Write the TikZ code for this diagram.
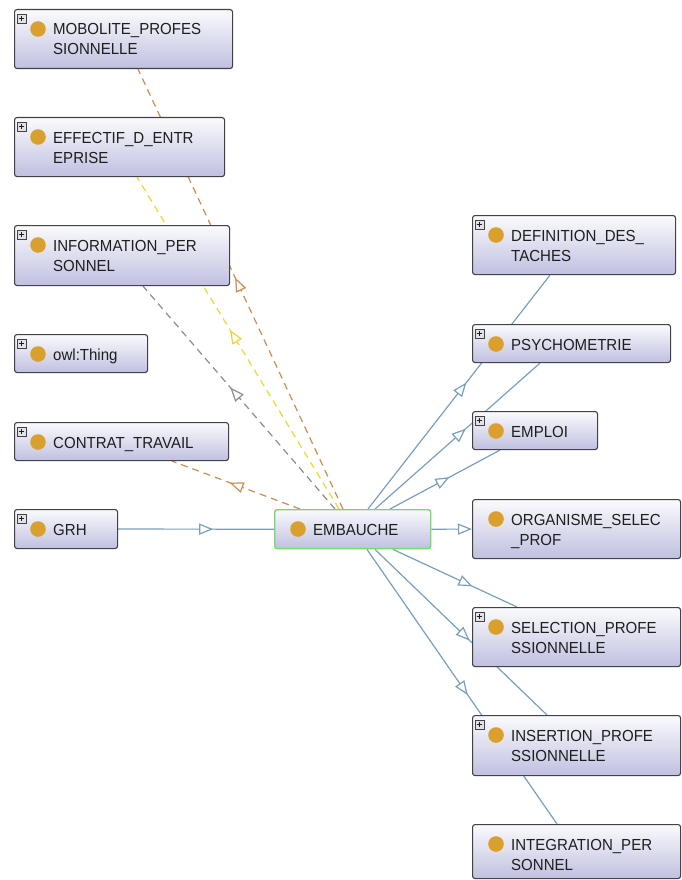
\documentclass[tikz,border=0pt]{standalone}
\usepackage{fontspec}
\setmainfont{Liberation Sans}[FakeStretch=0.94]
\usetikzlibrary{calc,arrows.meta,decorations.markings,backgrounds}

\definecolor{boxtop}{RGB}{250,250,253}
\definecolor{boxbot}{RGB}{192,192,224}
\definecolor{boxborder}{RGB}{65,65,70}
\definecolor{embborder}{RGB}{120,215,110}
\definecolor{dotcol}{RGB}{218,160,45}
\definecolor{plusfill}{RGB}{225,225,230}
\definecolor{textcol}{RGB}{30,30,30}
\definecolor{edgeblue}{RGB}{120,160,190}
\definecolor{edgeorange}{RGB}{205,140,80}
\definecolor{edgeyellow}{RGB}{235,215,50}
\definecolor{edgegray}{RGB}{140,140,150}

\tikzset{
  clsbox/.style={draw=boxborder, line width=1.1pt, rounded corners=2.5pt,
    top color=boxtop, bottom color=boxbot, anchor=north west, inner sep=0pt},
  embbox/.style={draw=embborder, line width=1.4pt},
  plainbox/.style={},
  clstext/.style={anchor=base west, inner sep=0pt, text=textcol,
    font=\fontsize{16}{20}\selectfont},
  isa/.style={draw=edgeblue, line width=1.2pt},
  hasrel/.style={line width=1.2pt, dash pattern=on 7pt off 5pt},
  tri/.style={postaction={decorate}, decoration={markings,
    mark=at position #1 with {\arrow{Triangle[open,length=14pt,width=11pt,fill=white]}}}},
  endtri/.style={-{Triangle[open,length=14pt,width=11pt,fill=white]}},
}

% two-line class label, baseline on the first line
\newcommand\twoln[2]{\vtop{\hbox{#1}\hbox{#2}}}

% #1 name, #2 x, #3 y, #4 width, #5 height, #6 border style, #7 expand box (1/0), #8 label
\newcommand\owlclass[8]{%
  \node[clsbox, #6, minimum width=#4pt, minimum height=#5pt] (#1) at (#2,#3) {};
  \fill[dotcol] ($(#1.north west)+(24,20)$) circle (7.8pt);
  \node[clstext] (#1-t) at ($(#1.north west)+(39,26)$) {#8};
  \ifnum#7=1
    \draw[fill=plusfill, draw=boxborder, line width=0.6pt]
      ($(#1.north west)+(3,5)$) rectangle ++(9,9);
    \draw[line width=0.8pt, textcol]
      ($(#1.north west)+(4.8,9.5)$) -- ++(5.4,0)
      ($(#1.north west)+(7.5,6.8)$) -- ++(0,5.4);
  \fi
}

\begin{document}
\begin{tikzpicture}[x=1pt, y=-1pt]
\useasboundingbox (0,0) rectangle (681,880);

% left column
\owlclass{mob}{14}{9}{218}{59}{plainbox}{1}{\twoln{MOBOLITE\_PROFES}{SIONNELLE}}
\owlclass{eff}{14}{117}{210}{59}{plainbox}{1}{\twoln{EFFECTIF\_D\_ENTR}{EPRISE}}
\owlclass{inf}{14}{225}{215}{60}{plainbox}{1}{\twoln{INFORMATION\_PER}{SONNEL}}
\owlclass{thing}{14}{334}{133}{38}{plainbox}{1}{owl:Thing}
\owlclass{con}{14}{422}{214}{38}{plainbox}{1}{CONTRAT\_TRAVAIL}
\owlclass{grh}{14}{509}{103}{39}{plainbox}{1}{GRH}

% focus class
\owlclass{emb}{274}{509}{156}{39}{embbox}{0}{EMBAUCHE}

% right column
\owlclass{def}{472}{215}{203}{59}{plainbox}{1}{\twoln{DEFINITION\_DES\_}{TACHES}}
\owlclass{psy}{472}{324}{198}{38}{plainbox}{1}{PSYCHOMETRIE}
\owlclass{emp}{472}{411}{125}{38}{plainbox}{1}{EMPLOI}
\owlclass{org}{472}{499}{208}{59}{plainbox}{0}{\twoln{ORGANISME\_SELEC}{\_PROF}}
\owlclass{sel}{472}{607}{208}{59}{plainbox}{1}{\twoln{SELECTION\_PROFE}{SSIONNELLE}}
\owlclass{ins}{472}{715}{208}{60}{plainbox}{1}{\twoln{INSERTION\_PROFE}{SSIONNELLE}}
\owlclass{int}{472}{824}{208}{54}{plainbox}{0}{\twoln{INTEGRATION\_PER}{SONNEL}}

\begin{scope}[on background layer]
  \fill[white] (0,0) rectangle (681,880);

  % subclass links
  \draw[isa, tri=0.61] (grh.east) -- (emb.west);
  \draw[isa, endtri] (emb.east) -- (org.west);
  \draw[isa, tri=0.54] ($(emb.north west)+(94,0)$) -- ($(def.south west)+(78,0)$);
  \draw[isa, tri=0.55] ($(emb.north west)+(101,0)$) -- ($(psy.south west)+(68,0)$);
  \draw[isa, tri=0.54] ($(emb.north west)+(116,0)$) -- ($(emp.south west)+(28,0)$);
  \draw[isa, tri=0.64] ($(emb.south west)+(119,0)$) -- ($(sel.north west)+(45,0)$);
  \draw[isa, tri=0.55] ($(emb.south west)+(101,0)$) -- ($(ins.north west)+(75,0)$);
  \draw[isa, tri=0.53] ($(emb.south west)+(93,0)$) -- ($(int.north west)+(85,0)$);

  % property links
  \draw[hasrel, draw=edgeorange, tri=0.526] ($(emb.north west)+(69,0)$) -- ($(mob.south west)+(124,0)$);
  \draw[hasrel, draw=edgeyellow, tri=0.54] ($(emb.north west)+(65,0)$) -- ($(eff.south west)+(123,0)$);
  \draw[hasrel, draw=edgegray, tri=0.545] ($(emb.north west)+(61,0)$) -- ($(inf.south west)+(129,0)$);
  \draw[hasrel, draw=edgeorange, tri=0.55] ($(emb.north west)+(26,0)$) -- ($(con.south west)+(158,0)$);
\end{scope}
\end{tikzpicture}
\end{document}
